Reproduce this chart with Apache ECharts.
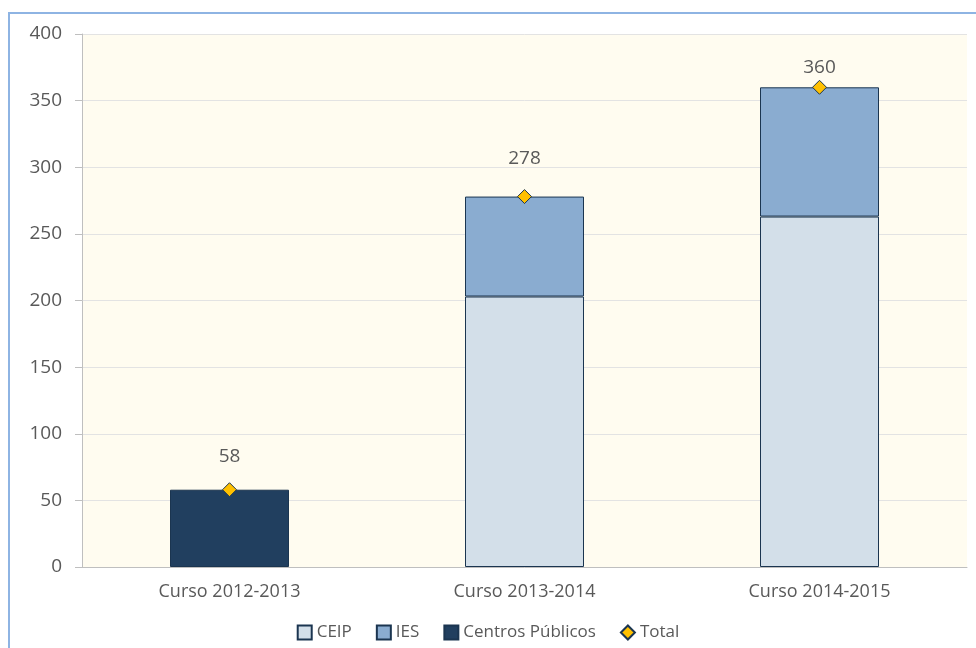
<!DOCTYPE html>
<html>
<head>
<meta charset="utf-8">
<script src="https://cdn.jsdelivr.net/npm/echarts@6/dist/echarts.min.js"></script>
<style>
  html, body { margin: 0; padding: 0; background: #fff; }
  #frame { position: absolute; left: 8px; top: 12px; width: 980px; height: 650px;
           border-left: 2px solid #8eb4e3; border-top: 2px solid #8eb4e3; }
  #main { position: absolute; left: 0; top: 0; width: 976px; height: 648px; }
</style>
</head>
<body>
<div id="frame"></div>
<div id="main"></div>
<script>
// datos
var cursos = ['Curso 2012-2013', 'Curso 2013-2014', 'Curso 2014-2015'];
var ceip = ['-', 203, 263];
var ies = ['-', 75, 97];
var centros = [58, '-', '-'];
var total = [58, 278, 360];

(function () {
  var txt = '#595959';
  var font = 'Open Sans';
  var barBorder = { borderColor: '#1b3550', borderWidth: 1 };
  // separación de cada etiqueta del total (colocadas a mano en el original)
  var labelGap = [16, 21, 3];

  var option = {
    animation: false,
    textStyle: { fontFamily: font },
    grid: { left: 82, right: 9, top: 34, bottom: 81, backgroundColor: '#fffcf0', show: true, borderWidth: 0 },
    legend: {
      bottom: 2,
      left: 'center',
      itemWidth: 14,
      itemHeight: 14,
      itemGap: 24,
      textStyle: { color: txt, fontSize: 17, fontFamily: font },
      data: [
        { name: 'CEIP', icon: 'rect' },
        { name: 'IES', icon: 'rect' },
        { name: 'Centros Públicos', icon: 'rect' },
        { name: 'Total', icon: 'diamond' }
      ]
    },
    xAxis: {
      type: 'category',
      data: cursos,
      axisLine: { lineStyle: { color: '#bfbfbf' } },
      axisTick: { show: false },
      axisLabel: { color: txt, fontSize: 18, margin: 16 }
    },
    yAxis: {
      type: 'value',
      min: 0,
      max: 400,
      interval: 50,
      axisLine: { show: true, lineStyle: { color: '#bfbfbf' } },
      axisTick: { show: true, length: 7, lineStyle: { color: '#bfbfbf' } },
      axisLabel: { color: txt, fontSize: 19, margin: 20 },
      splitLine: { lineStyle: { color: '#e3e3e3' } }
    },
    series: [
      {
        name: 'CEIP', type: 'bar', stack: 'a', barWidth: 119, data: ceip,
        itemStyle: Object.assign({ color: '#d3dfe9' }, barBorder)
      },
      {
        name: 'IES', type: 'bar', stack: 'a', barWidth: 119, data: ies,
        itemStyle: Object.assign({ color: '#8aacd0' }, barBorder)
      },
      {
        name: 'Centros Públicos', type: 'bar', stack: 'a', barWidth: 119, data: centros,
        itemStyle: Object.assign({ color: '#213f5f' }, barBorder)
      },
      {
        name: 'Total', type: 'line',
        data: total.map(function (v, i) {
          return { value: v, label: { distance: labelGap[i] } };
        }),
        symbol: 'diamond', symbolSize: 14,
        lineStyle: { width: 0, opacity: 0 },
        itemStyle: { color: '#ffc000', borderColor: '#1b3550', borderWidth: 1 },
        label: { show: true, position: 'top', color: txt, fontSize: 19 },
        z: 5
      }
    ]
  };

  var myChart = echarts.init(document.getElementById('main'));
  myChart.setOption(option);
})();
</script>
</body>
</html>
